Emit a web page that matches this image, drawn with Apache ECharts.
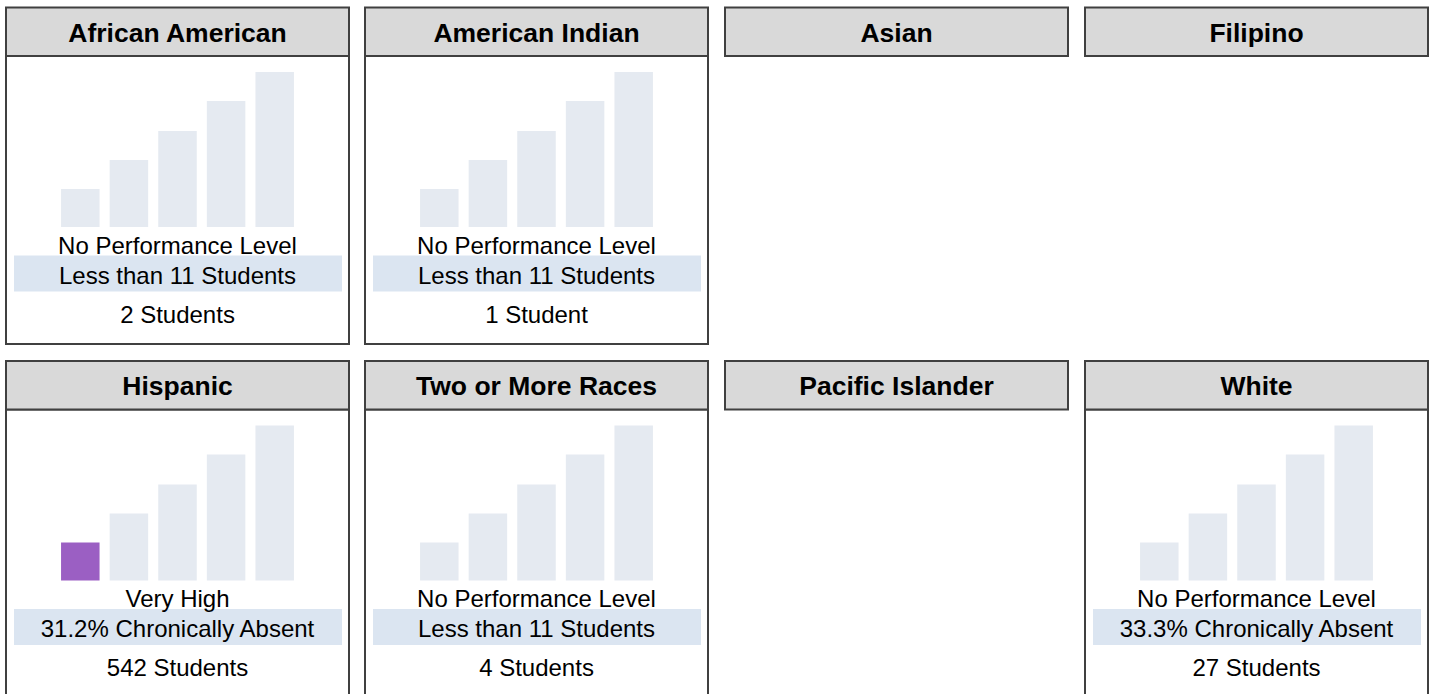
<!DOCTYPE html>
<html>
<head>
<meta charset="utf-8">
<script src="https://cdn.jsdelivr.net/npm/echarts@6/dist/echarts.min.js"></script>
<style>
  html, body { margin: 0; padding: 0; background: #ffffff; }
  #chart { width: 1433px; height: 694px; }
</style>
</head>
<body>
<div id="chart"></div>
<script>
// ---- data ----
var groups = ['African American', 'American Indian', 'Asian', 'Filipino',
              'Hispanic', 'Two or More Races', 'Pacific Islander', 'White'];
var hasChart = [true, true, false, false, true, true, false, true];
var levelLabels = ['No Performance Level', 'No Performance Level', '', '',
                   'Very High', 'No Performance Level', '', 'No Performance Level'];
var rateLabels = ['Less than 11 Students', 'Less than 11 Students', '', '',
                  '31.2% Chronically Absent', 'Less than 11 Students', '', '33.3% Chronically Absent'];
var countLabels = ['2 Students', '1 Student', '', '',
                   '542 Students', '4 Students', '', '27 Students'];
// index of the highlighted level bar (-1 = none)
var activeLevel = [-1, -1, -1, -1, 0, -1, -1, -1];
var levels = ['Very High', 'High', 'Medium', 'Low', 'Very Low'];
var levelBarHeights = [38, 67, 96, 126, 155];

// ---- styles / layout ----
var FONT = '"Liberation Sans", Arial, Helvetica, sans-serif';
var BORDER = '#404040';
var HEADER_FILL = '#d9d9d9';
var BAR_FILL = '#e5eaf1';
var BAND_FILL = '#dbe5f1';
var ACTIVE_FILL = '#9b5fc3';
var panelLeft = [6, 365, 725, 1085];
var panelTop = [7.5, 361];
var panelW = 343;
var headerH = 48.5;
var bodyH = 288;

var chart = echarts.init(document.getElementById('chart'), null, { renderer: 'svg', width: 1433, height: 694 });

var graphics = [];
var grids = [], xAxes = [], yAxes = [], series = [];

groups.forEach(function (name, i) {
  var col = i % 4, row = Math.floor(i / 4);
  var x = panelLeft[col], y = panelTop[row];
  var hb = y + headerH;
  var cx = x + panelW / 2;
  if (hasChart[i]) {
    graphics.push({
      type: 'rect', z: 1,
      shape: { x: x, y: hb, width: panelW, height: bodyH },
      style: { fill: '#ffffff', stroke: BORDER, lineWidth: 2 }
    });
  }
  graphics.push({
    type: 'rect', z: 2,
    shape: { x: x, y: y, width: panelW, height: headerH },
    style: { fill: HEADER_FILL, stroke: BORDER, lineWidth: 2 }
  });
  graphics.push({
    type: 'text', z: 3,
    x: cx, y: y + headerH / 2 + 1,
    style: { text: name, fill: '#000', font: 'bold 26.5px ' + FONT, align: 'center', verticalAlign: 'middle' }
  });
  if (!hasChart[i]) return;

  graphics.push({
    type: 'rect', z: 2,
    shape: { x: x + 8, y: hb + 199.5, width: panelW - 15, height: 36 },
    style: { fill: BAND_FILL }
  });
  [[levelLabels[i], 188], [rateLabels[i], 218], [countLabels[i], 257]].forEach(function (t) {
    graphics.push({
      type: 'text', z: 3,
      x: cx, y: hb + t[1] + 1,
      style: { text: t[0], fill: '#000', font: '24px ' + FONT, align: 'center', verticalAlign: 'middle' }
    });
  });

  var gi = grids.length;
  grids.push({ left: x + 50, top: hb + 16, width: 243, height: 155, containLabel: false });
  xAxes.push({ type: 'category', gridIndex: gi, data: levels, show: false });
  yAxes.push({ type: 'value', gridIndex: gi, min: 0, max: 155, show: false });
  series.push({
    type: 'bar', xAxisIndex: gi, yAxisIndex: gi,
    barWidth: 38.5, silent: true, animation: false,
    data: levelBarHeights.map(function (v, k) {
      return { value: v, itemStyle: { color: k === activeLevel[i] ? ACTIVE_FILL : BAR_FILL } };
    })
  });
});

chart.setOption({
  animation: false,
  grid: grids,
  xAxis: xAxes,
  yAxis: yAxes,
  series: series,
  graphic: graphics
});
</script>
</body>
</html>
